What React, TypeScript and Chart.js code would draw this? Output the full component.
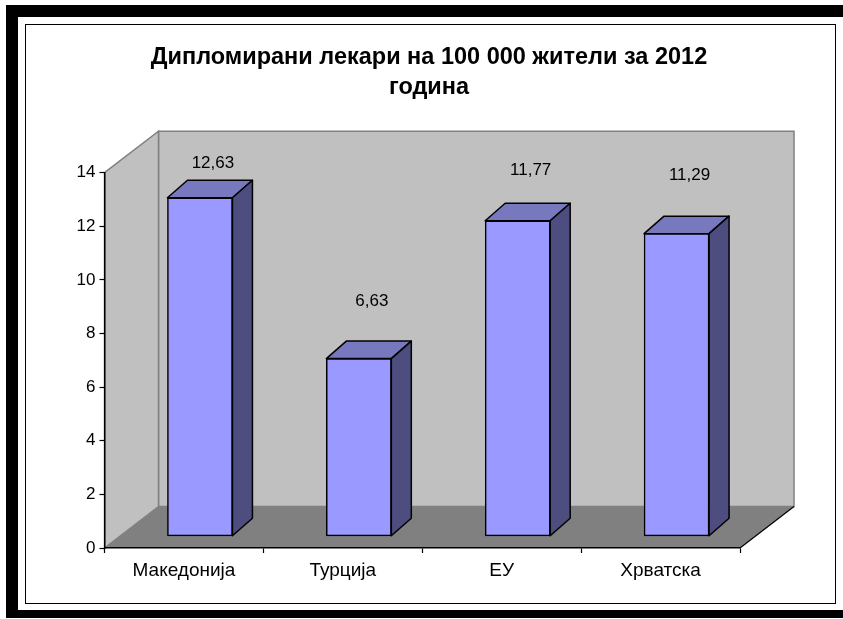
import React, { useEffect, useRef } from "react";
import { Chart, registerables } from "chart.js";

Chart.register(...registerables);

const titleLines = ["Дипломирани лекари на 100 000 жители за 2012", "година"];
const categories = ["Македонија", "Турција", "ЕУ", "Хрватска"];
const values = [12.63, 6.63, 11.77, 11.29];
const labelLift = [34.5, 57, 50, 58];

const FONT = "'Liberation Sans', Arial, sans-serif";
const WALL = { dx: 54, dy: -41.5 };
const BAR_SHIFT = { dx: 16, dy: -11.7 };
const BAR_DEPTH = { dx: 20, dy: -17.5 };

function poly(ctx: CanvasRenderingContext2D, pts: number[][], fill: string | null, stroke?: string, lw = 1) {
  ctx.beginPath();
  pts.forEach((p, i) => (i ? ctx.lineTo(p[0], p[1]) : ctx.moveTo(p[0], p[1])));
  ctx.closePath();
  if (fill) {
    ctx.fillStyle = fill;
    ctx.fill();
  }
  if (stroke) {
    ctx.strokeStyle = stroke;
    ctx.lineWidth = lw;
    ctx.stroke();
  }
}

const box3d = {
  id: "box3d",
  beforeDraw(chart: any) {
    const { ctx, chartArea: a } = chart;
    const { left: l, right: r, top: t, bottom: b } = a;
    const { dx, dy } = WALL;
    ctx.save();
    poly(ctx, [[l + dx, t + dy], [r + dx, t + dy], [r + dx, b + dy], [l + dx, b + dy]], "#C0C0C0", "#808080", 1.5);
    poly(ctx, [[l, t], [l + dx, t + dy], [l + dx, b + dy], [l, b]], "#C0C0C0", "#808080", 1.5);
    poly(ctx, [[l, b], [l + dx, b + dy], [r + dx, b + dy], [r, b]], "#808080");
    ctx.beginPath();
    ctx.moveTo(r, b);
    ctx.lineTo(r + dx, b + dy);
    ctx.strokeStyle = "#000";
    ctx.lineWidth = 1.2;
    ctx.stroke();
    ctx.restore();
  },
  beforeDatasetDraw(chart: any, args: any) {
    const { ctx } = chart;
    ctx.save();
    ctx.translate(BAR_SHIFT.dx, BAR_SHIFT.dy);
    const meta = chart.getDatasetMeta(args.index);
    meta.data.forEach((el: any) => {
      const x0 = el.x - el.width / 2;
      const x1 = el.x + el.width / 2;
      const { dx, dy } = BAR_DEPTH;
      ctx.lineJoin = "round";
      poly(ctx, [[x0, el.y], [x0 + dx, el.y + dy], [x1 + dx, el.y + dy], [x1, el.y]], "#7878BE", "#000", 1.5);
      poly(ctx, [[x1, el.y], [x1 + dx, el.y + dy], [x1 + dx, el.base + dy], [x1, el.base]], "#4D4D80", "#000", 1.5);
    });
  },
  afterDatasetDraw(chart: any) {
    chart.ctx.restore();
  },
  afterDatasetsDraw(chart: any) {
    const { ctx } = chart;
    const meta = chart.getDatasetMeta(0);
    ctx.save();
    ctx.font = `17px ${FONT}`;
    ctx.fillStyle = "#000";
    ctx.textAlign = "center";
    ctx.textBaseline = "middle";
    meta.data.forEach((el: any, i: number) => {
      const text = values[i].toFixed(2).replace(".", ",");
      ctx.fillText(text, el.x + BAR_SHIFT.dx + 13, el.y + BAR_SHIFT.dy - labelLift[i]);
    });
    ctx.restore();
  },
};

export default function App() {
  const ref = useRef<HTMLCanvasElement>(null);
  useEffect(() => {
    const chart = new Chart(ref.current!, {
      type: "bar",
      data: {
        labels: categories,
        datasets: [
          {
            data: values,
            backgroundColor: "#9999FF",
            borderColor: "#000",
            borderWidth: 1.5,
            borderSkipped: false,
            barThickness: 65,
            clip: false,
          } as any,
        ],
      },
      options: {
        responsive: false,
        animation: false,
        layout: { padding: { left: 18, right: 3, top: 0, bottom: 0 } },
        plugins: {
          legend: { display: false },
          tooltip: { enabled: false },
          title: {
            display: true,
            text: titleLines,
            color: "#000",
            font: { family: FONT, size: 23.5, weight: "bold", lineHeight: 30 / 23.5 },
            padding: { top: 43, bottom: 69.7 },
          },
        },
        scales: {
          x: {
            afterFit: (s: any) => {
              s.height = 71;
            },
            grid: { drawOnChartArea: false, tickColor: "#000", tickLength: 5, tickWidth: 1.2 },
            border: { color: "#000", width: 1.5 },
            ticks: { color: "#000", font: { family: FONT, size: 19 }, padding: 6, maxRotation: 0 },
          },
          y: {
            min: 0,
            max: 14,
            afterFit: (s: any) => {
              s.width = 86.5;
            },
            grid: { drawOnChartArea: false, tickColor: "#000", tickLength: 5, tickWidth: 1.2 },
            border: { color: "#000", width: 1.5 },
            ticks: { stepSize: 2, color: "#000", font: { family: FONT, size: 17 }, padding: 4 },
          },
          pad: {
            type: "linear",
            position: "right",
            afterFit: (s: any) => {
              s.width = 100;
            },
            grid: { display: false },
            border: { display: false },
            ticks: { display: false },
          },
        },
      } as any,
      plugins: [box3d],
    });
    return () => chart.destroy();
  }, []);

  return (
    <div style={{ position: "absolute", left: 0, top: 0, width: 843, height: 619, overflow: "hidden", background: "#fff" }}>
      <div style={{ position: "absolute", left: 6, top: 5, width: 837, height: 613, background: "#000" }} />
      <div style={{ position: "absolute", left: 18, top: 17, width: 825, height: 593, background: "#fff" }} />
      <div style={{ position: "absolute", left: 25, top: 24, width: 809, height: 578, border: "1.5px solid #000" }} />
      <canvas ref={ref} width={843} height={619} style={{ position: "absolute", left: 0, top: 0 }} />
    </div>
  );
}
